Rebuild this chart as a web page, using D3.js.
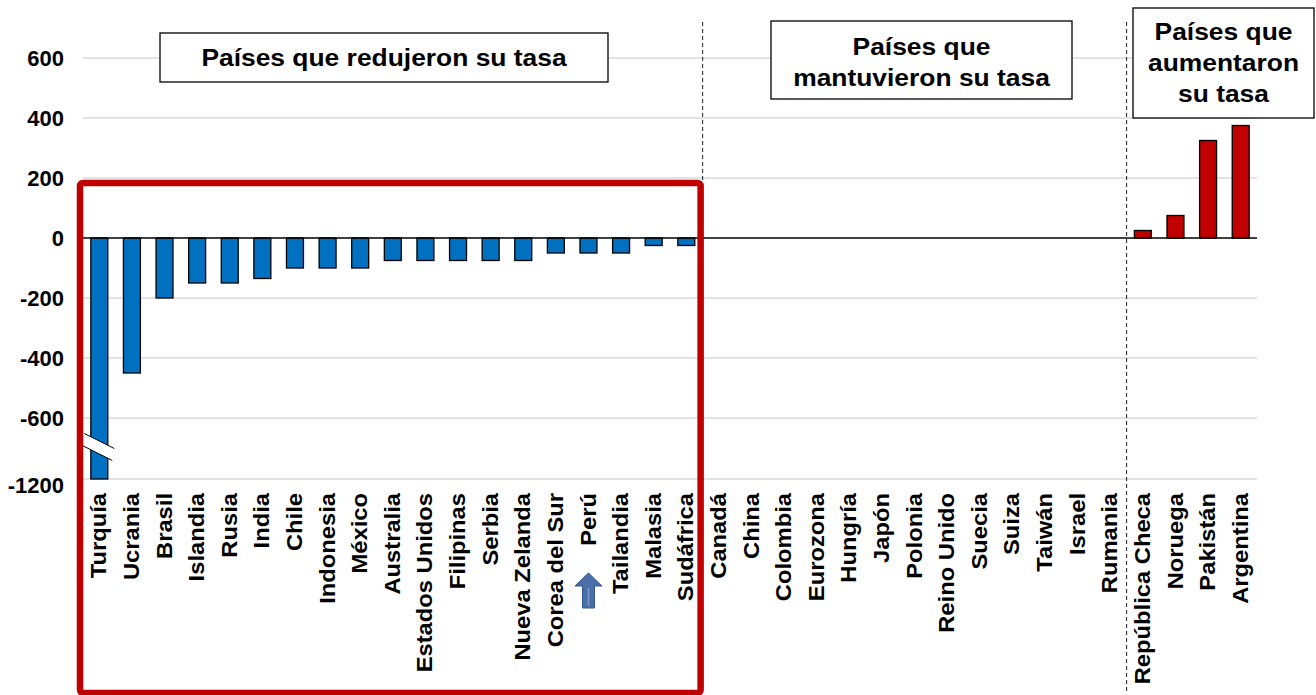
<!DOCTYPE html>
<html lang="es">
<head>
  <meta charset="UTF-8">
  <title>Cambios en tasas de política</title>
  <script src="https://d3js.org/d3.v7.min.js"></script>
  <style>
    body { margin: 0; padding: 0; background: #fff; }
    svg { display: block; font-family: "Liberation Sans", Arial, sans-serif; font-weight: bold; }
    .grid line { stroke: #d9d9d9; stroke-width: 1.3; }
    .bar { stroke: #000; stroke-width: 1.3; }
  </style>
</head>
<body>
  <div id="chart"></div>

  <script>
    // Countries, in chart order
    const reducedCountries = ["Turquía", "Ucrania", "Brasil", "Islandia", "Rusia", "India", "Chile",
      "Indonesia", "México", "Australia", "Estados Unidos", "Filipinas", "Serbia", "Nueva Zelanda",
      "Corea del Sur", "Perú", "Tailandia", "Malasia", "Sudáfrica"];
    const keptCountries = ["Canadá", "China", "Colombia", "Eurozona", "Hungría", "Japón", "Polonia",
      "Reino Unido", "Suecia", "Suiza", "Taiwán", "Israel", "Rumania"];
    const raisedCountries = ["República Checa", "Noruega", "Pakistán", "Argentina"];

    // Change in policy rate (basis points)
    const reducedValues = [-1200, -450, -200, -150, -150, -135, -100, -100, -100, -75, -75, -75, -75, -75,
      -50, -50, -50, -25, -25];
    const keptValues = [0, 0, 0, 0, 0, 0, 0, 0, 0, 0, 0, 0, 0];
    const raisedValues = [25, 75, 325, 375];

    // y axis: broken between -600 and -1200
    const yTicks = [600, 400, 200, 0, -200, -400, -600, -1200];

    const groupTitles = [
      ["Países que redujeron su tasa"],
      ["Países que", "mantuvieron su tasa"],
      ["Países que", "aumentaron", "su tasa"]
    ];
    const highlight = "Perú";

    const categories = reducedCountries.concat(keptCountries, raisedCountries);
    const values = reducedValues.concat(keptValues, raisedValues);
    const data = categories.map((c, i) => ({ country: c, value: values[i] }));

    const width = 1316, height = 695;
    const left = 83, right = 1257;

    const svg = d3.select("#chart").append("svg")
      .attr("width", width)
      .attr("height", height);

    const x = d3.scaleBand()
      .domain(categories)
      .range([left, right])
      .paddingInner(0.48)
      .paddingOuter(0.24);

    // polylinear scale gives the axis break
    const y = d3.scaleLinear()
      .domain([-1200, -600, 700])
      .range([479, 418, 28]);

    // gridlines
    svg.append("g").attr("class", "grid")
      .selectAll("line")
      .data(yTicks.filter(d => d !== 0))
      .join("line")
      .attr("x1", left).attr("x2", right)
      .attr("y1", d => y(d)).attr("y2", d => y(d));

    // y axis labels
    const yAxis = svg.append("g")
      .attr("transform", `translate(${left},0)`)
      .call(d3.axisLeft(y).tickValues(yTicks).tickFormat(d => String(d)).tickSize(0).tickPadding(19));
    yAxis.select(".domain").remove();
    yAxis.selectAll("text")
      .attr("font-size", 22)
      .attr("font-family", "Liberation Sans, Arial, sans-serif")
      .attr("font-weight", "bold")
      .attr("fill", "#000")
      .attr("dy", d => d === -1200 ? "0.62em" : "0.35em");

    // dashed separators between groups
    const step = x.step();
    const seps = [reducedCountries.length, reducedCountries.length + keptCountries.length];
    svg.append("g").selectAll("line")
      .data(seps)
      .join("line")
      .attr("x1", d => left + d * step).attr("x2", d => left + d * step)
      .attr("y1", 22).attr("y2", 692)
      .attr("stroke", "#333")
      .attr("stroke-width", 1.1)
      .attr("stroke-dasharray", "4,3");

    // bars
    svg.append("g").selectAll("rect")
      .data(data.filter(d => d.value !== 0))
      .join("rect")
      .attr("class", "bar")
      .attr("x", d => x(d.country))
      .attr("width", x.bandwidth())
      .attr("y", d => y(Math.max(d.value, 0)))
      .attr("height", d => Math.abs(y(d.value) - y(0)))
      .attr("fill", d => d.value < 0 ? "#0070C0" : "#C00000");

    // zero line
    svg.append("line")
      .attr("x1", left).attr("x2", right)
      .attr("y1", y(0)).attr("y2", y(0))
      .attr("stroke", "#000")
      .attr("stroke-width", 1.4);

    // axis break mark on the first bar
    const bx = x(categories[0]) + x.bandwidth() / 2;
    const by = y(-900) - 2;
    svg.append("path")
      .attr("d", `M${bx - 15},${by - 13} L${bx + 15},${by + 2} L${bx + 13},${by + 14} L${bx - 17},${by - 1} Z`)
      .attr("fill", "#fff");
    svg.append("path")
      .attr("d", `M${bx - 15},${by - 13} L${bx + 15},${by + 2} M${bx - 17},${by - 1} L${bx + 13},${by + 14}`)
      .attr("stroke", "#000")
      .attr("stroke-width", 1)
      .attr("fill", "none");

    // category labels
    const xAxis = svg.append("g")
      .attr("transform", `translate(0,${y(-1200)})`)
      .call(d3.axisBottom(x).tickSize(0));
    xAxis.select(".domain").remove();
    xAxis.selectAll("text")
      .attr("font-size", 22)
      .attr("font-family", "Liberation Sans, Arial, sans-serif")
      .attr("font-weight", "bold")
      .attr("fill", "#000")
      .attr("text-anchor", "end")
      .attr("transform", "rotate(-90) scale(1.08,1)")
      .attr("x", -14 / 1.08)
      .attr("y", 0)
      .attr("dy", "0.32em");

    // arrow pointing at Perú
    const ax = x(highlight) + x.bandwidth() / 2;
    svg.append("path")
      .attr("d", `M${ax},573 L${ax + 13.5},586 L${ax + 6},586 L${ax + 6},608 L${ax - 6},608 L${ax - 6},586 L${ax - 13.5},586 Z`)
      .attr("fill", "#4a6fa8")
      .attr("stroke", "#35578f")
      .attr("stroke-width", 1);
    svg.append("line")
      .attr("x1", ax).attr("x2", ax)
      .attr("y1", 588).attr("y2", 606)
      .attr("stroke", "#7f9cc9")
      .attr("stroke-width", 1.5);

    // red frame around the reducing group
    svg.append("rect")
      .attr("x", left - 3)
      .attr("y", 183)
      .attr("width", reducedCountries.length * step + 1)
      .attr("height", 510)
      .attr("rx", 3)
      .attr("fill", "none")
      .attr("stroke", "#C00000")
      .attr("stroke-width", 6.5);

    // group title boxes
    const boxes = [
      { x0: 160, y0: 33, x1: 608, y1: 82, base: 66 },
      { x0: 771, y0: 21, x1: 1072, y1: 99, base: 55 },
      { x0: 1133, y0: 8, x1: 1314, y1: 118, base: 40 }
    ];
    boxes.forEach((b, i) => {
      svg.append("rect")
        .attr("x", b.x0).attr("y", b.y0)
        .attr("width", b.x1 - b.x0).attr("height", b.y1 - b.y0)
        .attr("fill", "#fff")
        .attr("stroke", "#000")
        .attr("stroke-width", 1.3);
      const cx = (b.x0 + b.x1) / 2;
      groupTitles[i].forEach((line, j) => {
        svg.append("text")
          .attr("transform", `translate(${cx},${b.base + j * 31}) scale(1.1,1)`)
          .attr("text-anchor", "middle")
          .attr("font-size", 24)
          .attr("fill", "#000")
          .text(line);
      });
    });
  </script>
</body>
</html>
